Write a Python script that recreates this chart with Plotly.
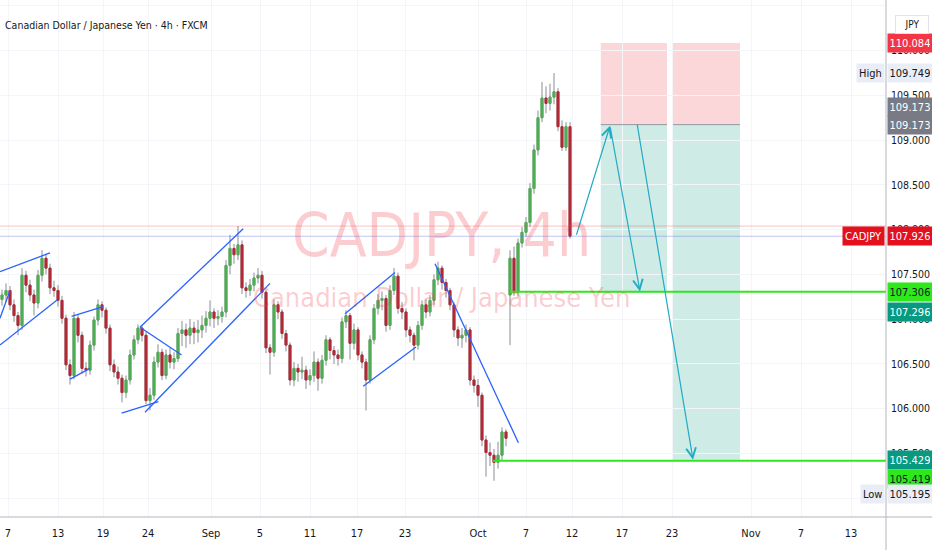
import plotly.graph_objects as go

FONT = "Liberation Sans Narrow, DejaVu Sans Condensed, Arial Narrow, Liberation Sans, sans-serif"

# CADJPY, one candle per bar index, prices in JPY
opens = [107.22, 107.27, 107.32, 107.16, 107.04, 106.93, 107.49, 107.38, 107.27, 107.18,
         107.49, 107.68, 107.57, 107.35, 107.32, 107.21, 107.01, 106.49, 106.37, 107.01,
         106.82, 106.45, 106.43, 106.71, 106.99, 107.16, 107.10, 106.90, 106.49, 106.41,
         106.34, 106.18, 106.32, 106.60, 106.77, 106.90, 106.82, 106.09, 106.15, 106.52,
         106.63, 106.37, 106.60, 106.52, 106.56, 106.84, 106.88, 106.82, 106.90, 106.85,
         106.88, 106.93, 107.01, 107.08, 107.01, 107.03, 107.08, 107.60, 107.79, 107.72,
         107.83, 107.35, 107.32, 107.38, 107.46, 107.49, 107.30, 106.68, 106.63, 107.16,
         107.08, 106.84, 106.71, 106.32, 106.45, 106.41, 106.43, 106.32, 106.37, 106.52,
         106.34, 106.54, 106.77, 106.65, 106.60, 106.56, 106.97, 107.04, 106.73, 106.88,
         106.60, 106.52, 106.32, 106.77, 107.12, 107.21, 107.23, 106.93, 107.32, 107.48,
         107.12, 107.08, 106.88, 106.82, 106.71, 106.93, 107.16, 107.08, 107.21, 107.44,
         107.57, 107.41, 107.32, 107.16, 106.88, 106.79, 106.82, 106.88, 106.32, 106.26,
         106.15, 105.65, 105.51, 105.48, 105.40, 105.48, 105.74, 107.27, 107.68, 107.30,
         107.85, 107.97, 108.08, 108.46, 108.89, 109.25, 109.47, 109.41, 109.48, 109.54,
         109.15, 108.92, 109.15]
highs = [107.33, 107.40, 107.37, 107.22, 107.08, 107.57, 107.54, 107.44, 107.33, 107.55,
         107.77, 107.73, 107.62, 107.43, 107.38, 107.26, 107.05, 106.55, 107.08, 107.05,
         106.86, 106.52, 106.76, 107.03, 107.22, 107.20, 107.13, 106.94, 106.55, 106.47,
         106.38, 106.37, 106.66, 106.82, 106.94, 106.93, 106.86, 106.23, 106.58, 106.72,
         106.67, 106.66, 106.68, 106.63, 106.90, 106.98, 106.95, 107.00, 106.97, 106.99,
         107.04, 107.09, 107.21, 107.12, 107.10, 107.14, 107.66, 107.94, 107.84, 108.04,
         107.88, 107.41, 107.45, 107.52, 107.57, 107.54, 107.33, 106.72, 107.22, 107.20,
         107.11, 106.88, 106.74, 106.52, 106.50, 106.58, 106.48, 106.44, 106.64, 106.56,
         106.60, 106.82, 106.80, 106.70, 106.66, 107.02, 107.10, 107.07, 106.95, 106.91,
         106.64, 106.56, 106.82, 107.17, 107.28, 107.31, 107.27, 107.38, 107.57, 107.52,
         107.19, 107.12, 106.92, 106.85, 106.98, 107.21, 107.22, 107.27, 107.50, 107.64,
         107.60, 107.45, 107.35, 107.19, 106.92, 106.90, 106.94, 106.91, 106.37, 106.33,
         106.18, 105.70, 105.62, 105.55, 105.63, 105.79, 105.77, 107.77, 107.81, 107.90,
         108.03, 108.14, 108.52, 108.95, 109.33, 109.65, 109.60, 109.63, 109.749, 109.58,
         109.22, 109.20, 109.20]
lows = [107.15, 107.20, 107.10, 106.97, 106.82, 106.88, 107.30, 107.20, 107.04, 107.12,
        107.42, 107.50, 107.28, 107.25, 107.14, 106.95, 106.43, 106.27, 106.33, 106.74,
        106.39, 106.36, 106.38, 106.65, 106.93, 107.02, 106.84, 106.42, 106.35, 106.27,
        106.07, 106.12, 106.27, 106.55, 106.72, 106.75, 106.05, 105.98, 106.10, 106.46,
        106.32, 106.33, 106.45, 106.44, 106.52, 106.70, 106.68, 106.72, 106.72, 106.74,
        106.79, 106.85, 106.92, 106.90, 106.93, 106.96, 107.02, 107.50, 107.62, 107.66,
        107.28, 107.24, 107.26, 107.31, 107.40, 107.23, 106.62, 106.38, 106.58, 107.00,
        106.78, 106.64, 106.26, 106.25, 106.30, 106.33, 106.22, 106.26, 106.30, 106.20,
        106.28, 106.48, 106.55, 106.50, 106.48, 106.51, 106.90, 106.55, 106.66, 106.54,
        106.45, 105.98, 106.28, 106.72, 107.05, 107.10, 106.86, 106.88, 107.27, 107.06,
        107.00, 106.80, 106.74, 106.54, 106.66, 106.88, 107.01, 107.03, 107.16, 107.38,
        107.33, 107.24, 107.10, 106.80, 106.70, 106.68, 106.74, 106.26, 106.18, 106.02,
        105.58, 105.24, 105.36, 105.195, 105.33, 105.42, 105.58, 106.71, 107.26, 107.25,
        107.80, 107.92, 108.03, 108.40, 108.83, 109.20, 109.30, 109.33, 109.40, 109.10,
        108.88, 108.88, 107.90]
closes = [107.27, 107.32, 107.16, 107.04, 106.93, 107.49, 107.38, 107.27, 107.18, 107.49,
          107.68, 107.57, 107.35, 107.32, 107.21, 107.01, 106.49, 106.37, 107.01, 106.82,
          106.45, 106.43, 106.71, 106.99, 107.16, 107.10, 106.90, 106.49, 106.41, 106.34,
          106.18, 106.32, 106.60, 106.77, 106.90, 106.82, 106.09, 106.15, 106.52, 106.63,
          106.37, 106.60, 106.52, 106.56, 106.84, 106.88, 106.82, 106.90, 106.85, 106.88,
          106.93, 107.01, 107.08, 107.01, 107.03, 107.08, 107.60, 107.79, 107.72, 107.83,
          107.35, 107.32, 107.38, 107.46, 107.49, 107.30, 106.68, 106.63, 107.16, 107.08,
          106.84, 106.71, 106.32, 106.45, 106.41, 106.43, 106.32, 106.37, 106.52, 106.34,
          106.54, 106.77, 106.65, 106.60, 106.56, 106.97, 107.04, 106.73, 106.88, 106.60,
          106.52, 106.32, 106.77, 107.12, 107.21, 107.23, 106.93, 107.32, 107.48, 107.12,
          107.08, 106.88, 106.82, 106.71, 106.93, 107.16, 107.08, 107.21, 107.44, 107.57,
          107.41, 107.32, 107.16, 106.88, 106.79, 106.82, 106.88, 106.32, 106.26, 106.15,
          105.65, 105.51, 105.48, 105.40, 105.48, 105.74, 105.67, 107.68, 107.30, 107.85,
          107.97, 108.08, 108.46, 108.89, 109.25, 109.47, 109.41, 109.48, 109.54, 109.15,
          108.92, 109.15, 107.926]
bars = list(range(len(closes)))

# time axis (positions in bar units)
tick_pos = [1.5, 14, 25.25, 36.5, 52.25, 64.5, 77, 88.75, 100.75, 119, 131, 142.5,
            155, 167.5, 187.25, 199.75, 212.25]
tick_text = ["7", "13", "19", "24", "Sep", "5", "11", "17", "23", "Oct", "7", "12",
             "17", "23", "Nov", "7", "13"]
x_end = 221

# two short positions
pos_start = [149.7, 167.75]
pos_end = [166.25, 184.5]
pos_stop = 110.084
pos_entry = 109.173
pos_target = [107.296, 105.429]

# green support levels
support_levels = [107.306, 105.419]
support_start = [127, 122.75]

# hand drawn trend lines: bar0, price0, bar1, price1
trend_lines = [
    (-0.5, 107.53, 12, 107.74),
    (-0.5, 106.71, 13.7, 107.21),
    (-0.5, 107.01, 2, 107.32),
    (17.4, 107.03, 25.3, 107.14),
    (17, 106.33, 22, 106.45),
    (29.9, 105.95, 39.1, 106.08),
    (34.5, 106.91, 44.9, 106.60),
    (34.5, 106.91, 60.3, 108.01),
    (35.75, 105.96, 67, 107.40),
    (85.75, 107.06, 98.25, 107.52),
    (90.3, 106.25, 103.5, 106.69),
    (108.25, 107.62, 129.1, 105.62),
]

# projected path arrows: from bar, price -> to bar, price
arrow_paths = [
    (143.5, 107.926, 152, 109.16),
    (152, 109.16, 159.5, 107.31),
    (158.75, 109.19, 172.75, 105.43),
]

last_price = 107.926
prev_level = 108.04
session_high = 109.749
session_low = 105.195

UP = "#4caf50"
DOWN = "#b22833"
WICK = "#8a8d96"

fig = go.Figure()

# grey wicks first (full range), coloured bodies on top
fig.add_trace(go.Candlestick(x=bars, open=opens, high=highs, low=lows, close=closes,
                             increasing=dict(line=dict(color=WICK, width=1), fillcolor=WICK),
                             decreasing=dict(line=dict(color=WICK, width=1), fillcolor=WICK),
                             whiskerwidth=0, hoverinfo="skip"))

body_hi = [max(o, c) for o, c in zip(opens, closes)]
body_lo = [min(o, c) for o, c in zip(opens, closes)]
fig.add_trace(go.Candlestick(x=bars, open=opens, high=body_hi, low=body_lo, close=closes,
                             increasing=dict(line=dict(color=UP, width=1), fillcolor=UP),
                             decreasing=dict(line=dict(color=DOWN, width=1), fillcolor=DOWN),
                             whiskerwidth=0))

shapes = []
# position boxes
for s, e, t in zip(pos_start, pos_end, pos_target):
    shapes.append(dict(type="rect", x0=s, x1=e, y0=pos_entry, y1=pos_stop, layer="below",
                       fillcolor="rgba(242,54,69,0.2)", line=dict(width=0)))
    shapes.append(dict(type="rect", x0=s, x1=e, y0=t, y1=pos_entry, layer="below",
                       fillcolor="rgba(8,153,129,0.2)", line=dict(width=0)))
    shapes.append(dict(type="line", x0=s, x1=e, y0=pos_entry, y1=pos_entry,
                       line=dict(color="#9598a1", width=1)))

# horizontal reference lines
shapes.append(dict(type="line", xref="paper", x0=0, x1=1, y0=prev_level, y1=prev_level,
                   line=dict(color="rgba(242,54,69,0.3)", width=1)))
shapes.append(dict(type="line", xref="paper", x0=0, x1=1, y0=last_price, y1=last_price,
                   line=dict(color="rgba(120,123,230,0.45)", width=1)))

for lvl, s in zip(support_levels, support_start):
    shapes.append(dict(type="line", x0=s, x1=x_end, y0=lvl, y1=lvl,
                       line=dict(color="#2ee81b", width=2)))

for x0, y0, x1, y1 in trend_lines:
    shapes.append(dict(type="line", x0=x0, y0=y0, x1=x1, y1=y1,
                       line=dict(color="#2962ff", width=1.3)))

# panel separators
shapes.append(dict(type="line", xref="paper", yref="paper", x0=1, x1=1, y0=-0.07, y1=1,
                   line=dict(color="#b2b5be", width=1)))
shapes.append(dict(type="line", xref="paper", yref="paper", x0=0, x1=1.06, y0=0, y1=0,
                   line=dict(color="#b2b5be", width=1)))

annotations = []
for x0, y0, x1, y1 in arrow_paths:
    annotations.append(dict(x=x1, y=y1, ax=x0, ay=y0, axref="x", ayref="y", xref="x", yref="y",
                            text="", showarrow=True, arrowhead=5, arrowsize=1.6,
                            arrowwidth=1.2, arrowcolor="#22abc4", standoff=0))


def tag(y, text, bg, fg, yshift=0, left=False):
    return dict(xref="paper", yref="y", x=1, y=y, xanchor="right" if left else "left",
                xshift=-1 if left else 1, yshift=yshift, text=text, showarrow=False,
                bgcolor=bg, font=dict(color=fg, size=11, family=FONT),
                width=None if left else 40, height=14, borderpad=2)


annotations += [
    tag(pos_stop, "110.084", "#f23645", "white"),
    tag(session_high, "High", "#e9edf6", "#131722", left=True),
    tag(session_high, f"{session_high:.3f}", "#e9edf6", "#131722"),
    tag(pos_entry, f"{pos_entry:.3f}", "#787b86", "white", yshift=18),
    tag(pos_entry, f"{pos_entry:.3f}", "#787b86", "white"),
    tag(last_price, "CADJPY", "#e3101e", "white", left=True),
    tag(last_price, f"{last_price:.3f}", "#e3101e", "white"),
    tag(support_levels[0], f"{support_levels[0]:.3f}", "#2ee81b", "#131722"),
    tag(pos_target[0], f"{pos_target[0]:.3f}", "#089981", "white", yshift=-19),
    tag(pos_target[1], f"{pos_target[1]:.3f}", "#089981", "white"),
    tag(support_levels[1], f"{support_levels[1]:.3f}", "#2ee81b", "#131722", yshift=-18),
    tag(session_low, "Low", "#e9edf6", "#131722", yshift=-13, left=True),
    tag(session_low, f"{session_low:.3f}", "#e9edf6", "#131722", yshift=-13),
]

# watermark and title
annotations += [
    dict(xref="paper", yref="paper", x=0.498, y=0.545, text="CADJPY, 4h", showarrow=False,
         font=dict(size=60, color="rgba(242,54,69,0.25)", family=FONT)),
    dict(xref="paper", yref="paper", x=0.498, y=0.424, text="Canadian Dollar / Japanese Yen",
         showarrow=False, font=dict(size=27, color="rgba(242,54,69,0.25)", family=FONT)),
    dict(xref="paper", yref="paper", x=0, y=0.967, xanchor="left", xshift=3,
         text="Canadian Dollar / Japanese Yen · 4h · FXCM", showarrow=False,
         font=dict(size=10.5, color="#131722", family=FONT)),
    dict(xref="paper", yref="paper", x=1, y=0.971, xanchor="left", xshift=9, text="JPY",
         showarrow=False, bordercolor="#e0e3eb", borderwidth=1, borderpad=3, width=26,
         font=dict(size=10, color="#131722", family=FONT)),
]

fig.update_layout(
    width=932, height=550,
    margin=dict(l=0, r=46, t=0, b=33, autoexpand=False),
    plot_bgcolor="white", paper_bgcolor="white",
    showlegend=False,
    font=dict(family=FONT, size=11, color="#131722"),
    shapes=shapes, annotations=annotations,
    xaxis=dict(range=[-0.5, x_end], tickvals=tick_pos, ticktext=tick_text,
               showgrid=True, gridcolor="#f4f5f8", zeroline=False, ticks="",
               rangeslider=dict(visible=False), ticklabelstandoff=8, automargin=False),
    yaxis=dict(side="right", range=[104.79, 110.565], dtick=0.5, tick0=105,
               tickformat=".3f", showgrid=True, gridcolor="#f4f5f8", zeroline=False,
               ticks="", ticklabelstandoff=4, automargin=False,
               tickfont=dict(size=10.5)),
)

fig.write_html("out.html", config={"displayModeBar": False},
               post_script="document.body.style.margin='0';")
